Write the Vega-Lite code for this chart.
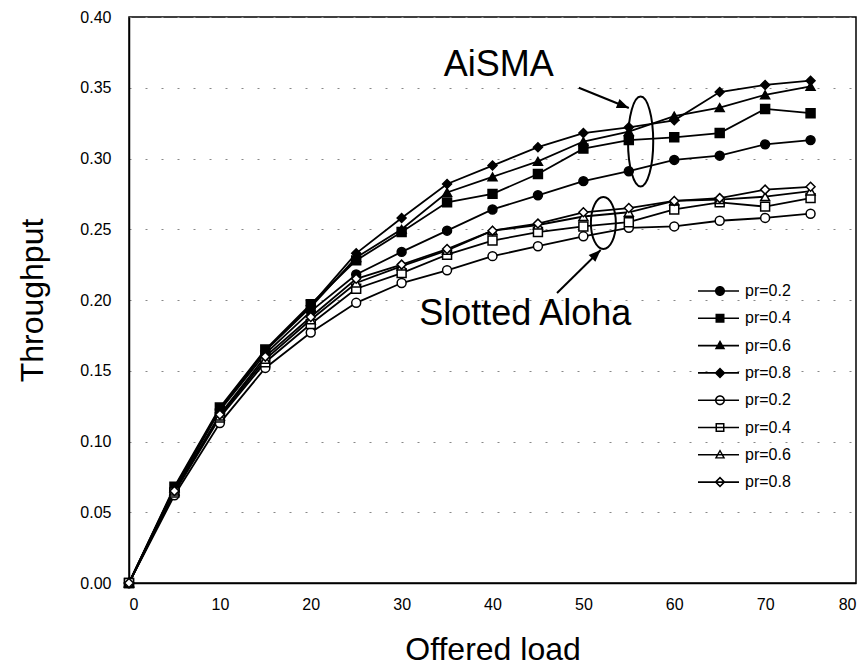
{
  "$schema": "https://vega.github.io/schema/vega-lite/v6.json",
  "width": 727,
  "height": 566,
  "autosize": {"type": "none"},
  "padding": {"left": 129, "top": 17, "right": 7, "bottom": 89},
  "background": "white",
  "config": {
    "font": "Liberation Sans",
    "view": {"stroke": "black", "strokeWidth": 1.5},
    "axis": {"domainColor": "black", "domainWidth": 1.5, "labelColor": "black", "titleColor": "black", "labelFont": "Liberation Sans", "titleFont": "Liberation Sans", "titleFontWeight": "normal", "labelFontSize": 16, "titleFontSize": 32}
  },
  "resolve": {"scale": {"shape": "independent"}, "legend": {"shape": "independent"}},
  "datasets": {
    "curves": [
      {"series": "A2", "x": 0, "y": 0}, {"series": "A2", "x": 5, "y": 0.066}, {"series": "A2", "x": 10, "y": 0.122}, {"series": "A2", "x": 15, "y": 0.162}, {"series": "A2", "x": 20, "y": 0.192}, {"series": "A2", "x": 25, "y": 0.218}, {"series": "A2", "x": 30, "y": 0.234}, {"series": "A2", "x": 35, "y": 0.249}, {"series": "A2", "x": 40, "y": 0.264}, {"series": "A2", "x": 45, "y": 0.274}, {"series": "A2", "x": 50, "y": 0.284}, {"series": "A2", "x": 55, "y": 0.291}, {"series": "A2", "x": 60, "y": 0.299}, {"series": "A2", "x": 65, "y": 0.302}, {"series": "A2", "x": 70, "y": 0.310}, {"series": "A2", "x": 75, "y": 0.313},
      {"series": "A4", "x": 0, "y": 0}, {"series": "A4", "x": 5, "y": 0.068}, {"series": "A4", "x": 10, "y": 0.124}, {"series": "A4", "x": 15, "y": 0.165}, {"series": "A4", "x": 20, "y": 0.197}, {"series": "A4", "x": 25, "y": 0.228}, {"series": "A4", "x": 30, "y": 0.248}, {"series": "A4", "x": 35, "y": 0.269}, {"series": "A4", "x": 40, "y": 0.275}, {"series": "A4", "x": 45, "y": 0.289}, {"series": "A4", "x": 50, "y": 0.307}, {"series": "A4", "x": 55, "y": 0.313}, {"series": "A4", "x": 60, "y": 0.315}, {"series": "A4", "x": 65, "y": 0.318}, {"series": "A4", "x": 70, "y": 0.335}, {"series": "A4", "x": 75, "y": 0.332},
      {"series": "A6", "x": 0, "y": 0}, {"series": "A6", "x": 5, "y": 0.067}, {"series": "A6", "x": 10, "y": 0.123}, {"series": "A6", "x": 15, "y": 0.164}, {"series": "A6", "x": 20, "y": 0.195}, {"series": "A6", "x": 25, "y": 0.230}, {"series": "A6", "x": 30, "y": 0.250}, {"series": "A6", "x": 35, "y": 0.276}, {"series": "A6", "x": 40, "y": 0.287}, {"series": "A6", "x": 45, "y": 0.298}, {"series": "A6", "x": 50, "y": 0.312}, {"series": "A6", "x": 55, "y": 0.319}, {"series": "A6", "x": 60, "y": 0.330}, {"series": "A6", "x": 65, "y": 0.336}, {"series": "A6", "x": 70, "y": 0.345}, {"series": "A6", "x": 75, "y": 0.351},
      {"series": "A8", "x": 0, "y": 0}, {"series": "A8", "x": 5, "y": 0.067}, {"series": "A8", "x": 10, "y": 0.123}, {"series": "A8", "x": 15, "y": 0.164}, {"series": "A8", "x": 20, "y": 0.196}, {"series": "A8", "x": 25, "y": 0.233}, {"series": "A8", "x": 30, "y": 0.258}, {"series": "A8", "x": 35, "y": 0.282}, {"series": "A8", "x": 40, "y": 0.295}, {"series": "A8", "x": 45, "y": 0.308}, {"series": "A8", "x": 50, "y": 0.318}, {"series": "A8", "x": 55, "y": 0.322}, {"series": "A8", "x": 60, "y": 0.327}, {"series": "A8", "x": 65, "y": 0.347}, {"series": "A8", "x": 70, "y": 0.352}, {"series": "A8", "x": 75, "y": 0.355},
      {"series": "S2", "x": 0, "y": 0}, {"series": "S2", "x": 5, "y": 0.062}, {"series": "S2", "x": 10, "y": 0.113}, {"series": "S2", "x": 15, "y": 0.152}, {"series": "S2", "x": 20, "y": 0.177}, {"series": "S2", "x": 25, "y": 0.198}, {"series": "S2", "x": 30, "y": 0.212}, {"series": "S2", "x": 35, "y": 0.221}, {"series": "S2", "x": 40, "y": 0.231}, {"series": "S2", "x": 45, "y": 0.238}, {"series": "S2", "x": 50, "y": 0.245}, {"series": "S2", "x": 55, "y": 0.251}, {"series": "S2", "x": 60, "y": 0.252}, {"series": "S2", "x": 65, "y": 0.256}, {"series": "S2", "x": 70, "y": 0.258}, {"series": "S2", "x": 75, "y": 0.261},
      {"series": "S4", "x": 0, "y": 0}, {"series": "S4", "x": 5, "y": 0.064}, {"series": "S4", "x": 10, "y": 0.117}, {"series": "S4", "x": 15, "y": 0.156}, {"series": "S4", "x": 20, "y": 0.183}, {"series": "S4", "x": 25, "y": 0.208}, {"series": "S4", "x": 30, "y": 0.219}, {"series": "S4", "x": 35, "y": 0.232}, {"series": "S4", "x": 40, "y": 0.242}, {"series": "S4", "x": 45, "y": 0.248}, {"series": "S4", "x": 50, "y": 0.252}, {"series": "S4", "x": 55, "y": 0.255}, {"series": "S4", "x": 60, "y": 0.264}, {"series": "S4", "x": 65, "y": 0.269}, {"series": "S4", "x": 70, "y": 0.266}, {"series": "S4", "x": 75, "y": 0.272},
      {"series": "S6", "x": 0, "y": 0}, {"series": "S6", "x": 5, "y": 0.065}, {"series": "S6", "x": 10, "y": 0.118}, {"series": "S6", "x": 15, "y": 0.158}, {"series": "S6", "x": 20, "y": 0.186}, {"series": "S6", "x": 25, "y": 0.212}, {"series": "S6", "x": 30, "y": 0.224}, {"series": "S6", "x": 35, "y": 0.235}, {"series": "S6", "x": 40, "y": 0.249}, {"series": "S6", "x": 45, "y": 0.253}, {"series": "S6", "x": 50, "y": 0.259}, {"series": "S6", "x": 55, "y": 0.262}, {"series": "S6", "x": 60, "y": 0.270}, {"series": "S6", "x": 65, "y": 0.271}, {"series": "S6", "x": 70, "y": 0.273}, {"series": "S6", "x": 75, "y": 0.277},
      {"series": "S8", "x": 0, "y": 0}, {"series": "S8", "x": 5, "y": 0.065}, {"series": "S8", "x": 10, "y": 0.119}, {"series": "S8", "x": 15, "y": 0.160}, {"series": "S8", "x": 20, "y": 0.188}, {"series": "S8", "x": 25, "y": 0.215}, {"series": "S8", "x": 30, "y": 0.225}, {"series": "S8", "x": 35, "y": 0.236}, {"series": "S8", "x": 40, "y": 0.249}, {"series": "S8", "x": 45, "y": 0.254}, {"series": "S8", "x": 50, "y": 0.262}, {"series": "S8", "x": 55, "y": 0.265}, {"series": "S8", "x": 60, "y": 0.270}, {"series": "S8", "x": 65, "y": 0.272}, {"series": "S8", "x": 70, "y": 0.278}, {"series": "S8", "x": 75, "y": 0.280}
    ]
  },
  "layer": [
    {
      "data": {"name": "curves"},
      "mark": {"type": "line", "color": "black", "strokeWidth": 1.8},
      "encoding": {
        "x": {"field": "x", "type": "quantitative", "scale": {"domain": [0, 80], "nice": false}, "axis": {"title": "Offered load", "values": [0, 10, 20, 30, 40, 50, 60, 70, 80], "ticks": false, "labelPadding": 13, "titlePadding": 22, "grid": false}},
        "y": {"field": "y", "type": "quantitative", "scale": {"domain": [0, 0.4], "nice": false}, "axis": {"title": "Throughput", "values": [0, 0.05, 0.1, 0.15, 0.2, 0.25, 0.3, 0.35, 0.4], "format": ".2f", "ticks": false, "labelPadding": 18, "titlePadding": 30, "grid": true, "gridColor": "#888888", "gridDash": [2, 14], "gridWidth": 1}},
        "detail": {"field": "series", "type": "nominal"}
      }
    },
    {
      "data": {"name": "curves"},
      "mark": {"type": "point", "filled": true, "opacity": 1, "stroke": "black", "strokeWidth": 1.5, "size": 80},
      "encoding": {
        "x": {"field": "x", "type": "quantitative"},
        "y": {"field": "y", "type": "quantitative"},
        "shape": {
          "field": "series", "type": "nominal",
          "scale": {"domain": ["A2", "A4", "A6", "A8", "S2", "S4", "S6", "S8"], "range": ["circle", "square", "triangle-up", "diamond", "circle", "square", "triangle-up", "diamond"]},
          "legend": null
        },
        "fill": {
          "field": "series", "type": "nominal",
          "scale": {"domain": ["A2", "A4", "A6", "A8", "S2", "S4", "S6", "S8"], "range": ["black", "black", "black", "black", "white", "white", "white", "white"]},
          "legend": null
        }
      }
    },
    {
      "data": {"name": "curves"},
      "transform": [{"filter": "datum.x < 0"}],
      "mark": {"type": "point", "filled": true, "opacity": 1, "color": "black", "strokeWidth": 0, "size": 100},
      "encoding": {
        "x": {"field": "x", "type": "quantitative"},
        "y": {"field": "y", "type": "quantitative"},
        "shape": {
          "field": "series", "type": "nominal",
          "scale": {
            "domain": ["A2", "A4", "A6", "A8", "S2", "S4", "S6", "S8"],
            "range": [
              "M-4.4,-0.16H3.8V0.16H-4.4Z M1,0A1,1 0 1,1 -1,0A1,1 0 1,1 1,0Z",
              "M-4.4,-0.16H3.8V0.16H-4.4Z M-0.9,-0.9H0.9V0.9H-0.9Z",
              "M-4.4,-0.16H3.8V0.16H-4.4Z M0,-1.1L1.05,0.75H-1.05Z",
              "M-4.4,-0.16H3.8V0.16H-4.4Z M0,-1.1L1.1,0L0,1.1L-1.1,0Z",
              "M-4.4,-0.16H3.8V0.16H-4.4Z M1,0A1,1 0 1,1 -1,0A1,1 0 1,1 1,0Z M0.7,0A0.7,0.7 0 1,0 -0.7,0A0.7,0.7 0 1,0 0.7,0Z",
              "M-4.4,-0.16H3.8V0.16H-4.4Z M-0.9,-0.9H0.9V0.9H-0.9Z M-0.6,-0.6V0.6H0.6V-0.6Z",
              "M-4.4,-0.16H3.8V0.16H-4.4Z M0,-1.1L1.05,0.75H-1.05Z M0,-0.545L-0.578,0.472H0.578Z",
              "M-4.4,-0.16H3.8V0.16H-4.4Z M0,-1.1L1.1,0L0,1.1L-1.1,0Z M0,-0.65L-0.65,0L0,0.65L0.65,0Z"
            ]
          },
          "legend": {
            "orient": "none", "legendX": 583, "legendY": 266, "title": null,
            "symbolSize": 100, "symbolFillColor": "black", "symbolStrokeWidth": 0, "symbolOpacity": 1,
            "labelFontSize": 16, "labelFont": "Liberation Sans", "labelColor": "black",
            "rowPadding": 11.3, "labelOffset": 17,
            "labelExpr": "'pr=0.' + slice(datum.label, 1)"
          }
        }
      }
    },
    {
      "data": {"values": [{"x": 40.7, "y": 0.366, "label": "AiSMA"}, {"x": 43.6, "y": 0.19, "label": "Slotted Aloha"}]},
      "mark": {"type": "text", "fontSize": 36, "font": "Liberation Sans", "color": "black", "align": "center", "baseline": "middle"},
      "encoding": {
        "x": {"field": "x", "type": "quantitative"},
        "y": {"field": "y", "type": "quantitative"},
        "text": {"field": "label"}
      }
    },
    {
      "data": {"values": [{"x": 56.3, "y": 0.312}]},
      "mark": {"type": "point", "shape": "M0,-1A0.28,1 0 1,1 0,1A0.28,1 0 1,1 0,-1Z", "size": 8100, "filled": false, "stroke": "black", "strokeWidth": 2, "opacity": 1},
      "encoding": {"x": {"field": "x", "type": "quantitative"}, "y": {"field": "y", "type": "quantitative"}}
    },
    {
      "data": {"values": [{"x": 52.2, "y": 0.2544}]},
      "mark": {"type": "point", "shape": "M0,-1A0.48,1 0 1,1 0,1A0.48,1 0 1,1 0,-1Z", "size": 2704, "filled": false, "stroke": "black", "strokeWidth": 2, "opacity": 1},
      "encoding": {"x": {"field": "x", "type": "quantitative"}, "y": {"field": "y", "type": "quantitative"}}
    },
    {
      "data": {"values": [{"x": 49.5, "y": 0.350, "x2": 55.0, "y2": 0.3357}, {"x": 47.1, "y": 0.205, "x2": 51.9, "y2": 0.2353}]},
      "mark": {"type": "rule", "color": "black", "strokeWidth": 2},
      "encoding": {"x": {"field": "x", "type": "quantitative"}, "y": {"field": "y", "type": "quantitative"}, "x2": {"field": "x2"}, "y2": {"field": "y2"}}
    },
    {
      "data": {"values": [{"x": 55.0, "y": 0.3357}]},
      "mark": {"type": "point", "shape": "M0,0L-2,-0.8L-2,0.8Z", "size": 144, "filled": true, "color": "black", "opacity": 1, "angle": 22},
      "encoding": {"x": {"field": "x", "type": "quantitative"}, "y": {"field": "y", "type": "quantitative"}}
    },
    {
      "data": {"values": [{"x": 51.9, "y": 0.2353}]},
      "mark": {"type": "point", "shape": "M0,0L-2,-0.8L-2,0.8Z", "size": 144, "filled": true, "color": "black", "opacity": 1, "angle": 316},
      "encoding": {"x": {"field": "x", "type": "quantitative"}, "y": {"field": "y", "type": "quantitative"}}
    }
  ]
}
